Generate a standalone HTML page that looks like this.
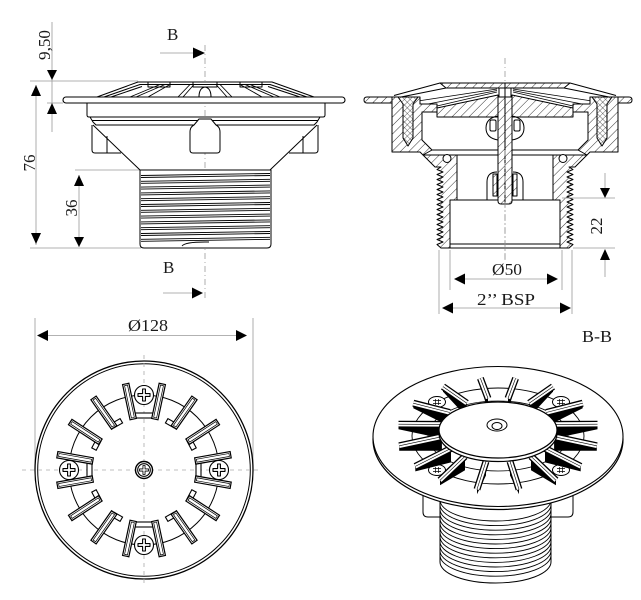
<!DOCTYPE html>
<html><head><meta charset="utf-8"><style>
html,body{margin:0;padding:0;background:#fff;}
svg{display:block;}
text{font-family:"Liberation Serif","Times New Roman",serif;font-size:17px;fill:#1a1a1a;}
</style></head><body>
<svg width="641" height="600" viewBox="0 0 641 600" xmlns="http://www.w3.org/2000/svg">
<defs>
<pattern id="hL" patternUnits="userSpaceOnUse" width="6" height="6" patternTransform="rotate(45)"><rect width="6" height="6" fill="#fff"/><line x1="0" y1="0" x2="0" y2="6" stroke="#000" stroke-width="0.8"/></pattern>
<pattern id="hR" patternUnits="userSpaceOnUse" width="6" height="6" patternTransform="rotate(-45)"><rect width="6" height="6" fill="#fff"/><line x1="0" y1="0" x2="0" y2="6" stroke="#000" stroke-width="0.8"/></pattern>
<pattern id="hx" patternUnits="userSpaceOnUse" width="4" height="4" patternTransform="rotate(45)"><rect width="4" height="4" fill="#fff"/><line x1="0" y1="0" x2="0" y2="4" stroke="#000" stroke-width="0.6"/><line x1="0" y1="0" x2="4" y2="0" stroke="#000" stroke-width="0.6"/></pattern>
<g id="bar"><rect x="-3.2" y="-88" width="6.4" height="36" stroke-width="1.2"/><rect x="-1.5" y="-86.5" width="3" height="33" stroke-width="0.7"/></g>
<path id="plus" d="M-1.4,-6 L1.4,-6 L1.4,-1.4 L6,-1.4 L6,1.4 L1.4,1.4 L1.4,6 L-1.4,6 L-1.4,1.4 L-6,1.4 L-6,-1.4 L-1.4,-1.4 Z" fill="none" stroke-linejoin="round"/>
<g id="secL" stroke="#000" stroke-width="1" stroke-linejoin="round">
  <path d="M440,83 L505,83 L505,88 L446,88 Z"/>
  <path d="M440,83 L394,95.5 M446,88 L401,97" fill="none"/>
  <path d="M418,101 L497,89 M437,106 L497,92 M428,104 L497,90.5" fill="none" stroke-width="0.8"/>
  <path d="M392,97 L420,97 L420,104 L437,104 L437,112 L422,112 L422,140 L432,150 L423,155 L420,152 L392,152 Z"/>
  <path d="M437,112 L437,108 L498,95 L498,117 L437,117 Z"/>
  <path d="M398,97 L418,97 L413,104 L413,138 L408,146 L403,138 L403,104 Z" fill="url(#hx)"/>
  <path d="M432,150 L505,150 M423,155 L505,155" fill="none"/>
  <path d="M423,155 L457,155 L457,200 L450,200 L450,248 L441,248 L437,244.5 L443,242 L437,239.5 L443,237 L437,234.5 L443,232 L437,229.5 L443,227 L437,224.5 L443,222 L437,219.5 L443,217 L437,214.5 L443,212 L437,209.5 L443,207 L437,204.5 L443,202 L437,199.5 L443,197 L437,194.5 L443,192 L437,189.5 L443,187 L437,184.5 L443,182 L437,179.5 L443,177 L437,174.5 L443,172 L437,169.5 L441,167 L435,167 Z"/>
  <circle cx="447" cy="158.5" r="4" fill="#fff"/>
  <path d="M457,200 L505,200 M450,244 L505,244 M450,248 L505,248" fill="none"/>
  <path d="M498,97 L505,97 L505,204 L501,204 Q498,204 498,201 Z"/>
  <rect x="499" y="88" width="6" height="9" fill="#fff"/>
  <path d="M498,116 Q486,118 486,128 Q486,138 498,140" fill="none"/>
  <rect x="490" y="120" width="6" height="11" rx="1.5" fill="#fff"/>
  <path d="M487,200 L487,182 Q487,172 497,172" fill="none"/>
  <rect x="493" y="174" width="4" height="22"/>
</g>
</defs>
<rect width="641" height="600" fill="#fff"/>

<!-- ================= ELEVATION ================= -->
<g stroke="#999" stroke-width="0.8" fill="none">
  <line x1="205" y1="45" x2="205" y2="300" stroke-dasharray="6,3,1,3"/>
  <line x1="52" y1="22" x2="52" y2="132"/>
  <line x1="30" y1="81" x2="138" y2="81"/>
  <line x1="47" y1="103" x2="63" y2="103"/>
  <line x1="36" y1="85" x2="36" y2="245"/>
  <line x1="30" y1="248" x2="141" y2="248"/>
  <line x1="79" y1="175" x2="79" y2="247"/>
  <line x1="75" y1="170" x2="141" y2="170"/>
  <line x1="160" y1="53" x2="195" y2="53"/>
  <line x1="163" y1="293" x2="193" y2="293"/>
</g>
<g fill="#000">
  <polygon points="47,70 57,70 52,80"/>
  <polygon points="47,114 57,114 52,103"/>
  <polygon points="31,96 41,96 36,85"/>
  <polygon points="31,233 41,233 36,244"/>
  <polygon points="74,186 84,186 79,175"/>
  <polygon points="74,237 84,237 79,247"/>
  <polygon points="193,47.5 193,58.5 205,53"/>
  <polygon points="192,287.5 192,298.5 203,293"/>
</g>
<text x="167" y="40">B</text>
<text x="163" y="273">B</text>
<text transform="translate(50,45) rotate(-90)" text-anchor="middle" textLength="30" lengthAdjust="spacingAndGlyphs">9,50</text>
<text transform="translate(35,163) rotate(-90)" text-anchor="middle">76</text>
<text transform="translate(77,208) rotate(-90)" text-anchor="middle">36</text>

<g stroke="#000" stroke-width="1" fill="none" stroke-linejoin="round">
  <path d="M97,97 L138,82 L272,82 L314,97 Z" fill="#fff"/>
  <path d="M104,97 L140,84.5 L270,84.5 L307,97"/>
  <path d="M111,97 L142,86.5 M300,97 L268,86.5"/>
  <path d="M130,97 L160,84.5 M136,97 L165,84.5 M148,97 L170,84.5 M178,97 L190,84.5 M183,97 L194,84.5" stroke-width="0.9"/>
  <path d="M280,97 L250,84.5 M274,97 L245,84.5 M262,97 L240,84.5 M232,97 L220,84.5 M227,97 L216,84.5" stroke-width="0.9"/>
  <rect x="148" y="82" width="22" height="5"/>
  <rect x="240" y="82" width="22" height="5"/>
  <rect x="193" y="82" width="24" height="5"/>
  <path d="M199,97 Q199,88 205,87 Q211,88 211,97" fill="#fff"/>
  <rect x="63" y="97" width="282" height="6" rx="3" fill="#fff" stroke-width="1.1"/>
  <path d="M87,103 L87,115 Q87,117 89,117 L323,117 Q325,117 325,115 L325,103"/>
  <path d="M90,117 L93,122 L96,125 L314,125 L317,122 L320,117"/>
  <line x1="92" y1="120.5" x2="318" y2="120.5"/>
  <path d="M92,125 L92,150 Q92,153 95,153 L121,153 M107,136 L107,153"/>
  <path d="M318,125 L318,150 Q318,153 315,153 L289,153 M303,136 L303,153"/>
  <path d="M93,125 L140,170 M317,125 L270,170"/>
  <path d="M190,150 L190,132 Q190,127 194,125 L199,119 L211,119 L216,125 Q220,127 220,132 L220,150 Q220,153 217,153 L193,153 Q190,153 190,150 Z" fill="#fff"/>
  <path d="M140,170 L140,244 Q140,248 144,248 L267,248 Q271,248 271,244 L271,170 Z" fill="#fff"/>
  <g stroke-width="0.9">
    <path d="M141,175.5 L270,173.5 M141,177.5 L270,175.5"/>
    <path d="M141,181.3 L270,179.3 M141,183.3 L270,181.3"/>
    <path d="M141,187.1 L270,185.1 M141,189.1 L270,187.1"/>
    <path d="M141,192.9 L270,190.9 M141,194.9 L270,192.9"/>
    <path d="M141,198.7 L270,196.7 M141,200.7 L270,198.7"/>
    <path d="M141,204.5 L270,202.5 M141,206.5 L270,204.5"/>
    <path d="M141,210.3 L270,208.3 M141,212.3 L270,210.3"/>
    <path d="M141,216.1 L270,214.1 M141,218.1 L270,216.1"/>
    <path d="M141,221.9 L270,219.9 M141,223.9 L270,221.9"/>
    <path d="M141,227.7 L270,225.7 M141,229.7 L270,227.7"/>
    <path d="M141,233.5 L270,231.5 M141,235.5 L270,233.5"/>
    <path d="M141,239.3 L270,237.3 M141,241.3 L270,239.3"/>
    <path d="M182,246 Q185,242 205,242 L209,242"/>
  </g>
</g>

<!-- ================= SECTION B-B ================= -->
<line x1="505" y1="58" x2="505" y2="262" stroke="#999" stroke-width="0.8" stroke-dasharray="6,3,1,3"/>
<path d="M392,97 L367,97 Q364,97 364,100 Q364,103 367,103 L392,103 Z" fill="url(#hL)" stroke="#000"/>
<path d="M618,97 L629,97 Q632,97 632,100 Q632,103 629,103 L618,103 Z" fill="url(#hL)" stroke="#000"/>
<use href="#secL" fill="url(#hL)"/>
<use href="#secL" fill="url(#hR)" transform="translate(1010,0) scale(-1,1)"/>
<line x1="505" y1="150" x2="505" y2="262" stroke="#999" stroke-width="0.8" stroke-dasharray="6,3,1,3"/>

<g stroke="#999" stroke-width="0.8" fill="none">
  <line x1="439" y1="250" x2="439" y2="314"/>
  <line x1="572" y1="250" x2="572" y2="314"/>
  <line x1="450" y1="250" x2="450" y2="290"/>
  <line x1="562" y1="250" x2="562" y2="290"/>
  <line x1="455" y1="279" x2="557" y2="279"/>
  <line x1="443" y1="308" x2="570" y2="308"/>
  <line x1="562" y1="198" x2="615" y2="198"/>
  <line x1="573" y1="248" x2="615" y2="248"/>
  <line x1="605" y1="173" x2="605" y2="190"/>
  <line x1="605" y1="258" x2="605" y2="277"/>
</g>
<g fill="#000">
  <polygon points="465,273.5 465,284.5 454,279"/>
  <polygon points="547,273.5 547,284.5 558,279"/>
  <polygon points="453,302.5 453,313.5 442,308"/>
  <polygon points="560,302.5 560,313.5 571,308"/>
  <polygon points="600,188 610,188 605,198"/>
  <polygon points="600,260 610,260 605,249"/>
</g>
<text x="492" y="275" textLength="30" lengthAdjust="spacingAndGlyphs">Ø50</text>
<text x="477" y="305" textLength="58" lengthAdjust="spacingAndGlyphs">2’’ BSP</text>
<text transform="translate(602,226) rotate(-90)" text-anchor="middle">22</text>
<text x="582" y="342" textLength="30" lengthAdjust="spacingAndGlyphs">B-B</text>

<!-- ================= TOP VIEW ================= -->
<g stroke="#999" stroke-width="0.8" fill="none">
  <line x1="35" y1="318" x2="35" y2="468"/>
  <line x1="253" y1="318" x2="253" y2="468"/>
  <line x1="45" y1="335.5" x2="240" y2="335.5"/>
</g>
<g fill="#000">
  <polygon points="48,330 48,341 37,335.5"/>
  <polygon points="236,330 236,341 247,335.5"/>
</g>
<text x="128" y="331" textLength="40" lengthAdjust="spacingAndGlyphs">Ø128</text>

<g stroke="#000" fill="none">
  <circle cx="144" cy="470" r="109" stroke-width="1.3"/>
  <circle cx="144" cy="470" r="106.3" stroke-width="1"/>
  <circle cx="144" cy="470" r="75" stroke-width="1"/>
</g>
<g stroke="#aaa" stroke-width="0.8" stroke-dasharray="4,4" fill="none">
  <line x1="22" y1="470" x2="262" y2="470"/>
  <line x1="144" y1="355" x2="144" y2="587"/>
</g>
<g transform="translate(144,470)" stroke="#000" stroke-width="1.1" fill="#fff">
  <rect x="-12" y="-57" width="24" height="5" transform="rotate(0)"/>
  <rect x="-12" y="-57" width="24" height="5" transform="rotate(90)"/>
  <rect x="-12" y="-57" width="24" height="5" transform="rotate(180)"/>
  <rect x="-12" y="-57" width="24" height="5" transform="rotate(270)"/>
  <rect x="-5" y="-56.5" width="10" height="5" transform="rotate(30)"/>
  <rect x="-5" y="-56.5" width="10" height="5" transform="rotate(62)"/>
  <rect x="-5" y="-56.5" width="10" height="5" transform="rotate(118)"/>
  <rect x="-5" y="-56.5" width="10" height="5" transform="rotate(150)"/>
  <rect x="-5" y="-56.5" width="10" height="5" transform="rotate(210)"/>
  <rect x="-5" y="-56.5" width="10" height="5" transform="rotate(242)"/>
  <rect x="-5" y="-56.5" width="10" height="5" transform="rotate(298)"/>
  <rect x="-5" y="-56.5" width="10" height="5" transform="rotate(330)"/>
  <use href="#bar" transform="rotate(12)"/>
  <use href="#bar" transform="rotate(35)"/>
  <use href="#bar" transform="rotate(57)"/>
  <use href="#bar" transform="rotate(80)"/>
  <use href="#bar" transform="rotate(100)"/>
  <use href="#bar" transform="rotate(123)"/>
  <use href="#bar" transform="rotate(145)"/>
  <use href="#bar" transform="rotate(168)"/>
  <use href="#bar" transform="rotate(192)"/>
  <use href="#bar" transform="rotate(215)"/>
  <use href="#bar" transform="rotate(237)"/>
  <use href="#bar" transform="rotate(260)"/>
  <use href="#bar" transform="rotate(280)"/>
  <use href="#bar" transform="rotate(303)"/>
  <use href="#bar" transform="rotate(325)"/>
  <use href="#bar" transform="rotate(348)"/>
</g>
<g stroke="#000" stroke-width="1.1" fill="#fff">
  <g transform="translate(144,395)"><circle r="9.5"/><use href="#plus"/></g>
  <g transform="translate(144,545)"><circle r="9.5"/><use href="#plus"/></g>
  <g transform="translate(69,470)"><circle r="9.5"/><use href="#plus"/></g>
  <g transform="translate(219,470)"><circle r="9.5"/><use href="#plus"/></g>
  <g transform="translate(144,470)"><circle r="8.5" stroke-width="1.4"/><circle r="6.3"/><use href="#plus" transform="scale(0.75)"/></g>
</g>

<!-- ================= ISOMETRIC ================= -->
<g stroke="#000" stroke-width="1" fill="#fff">
  <path d="M423,492 L423,512 Q423,517 428,517 L440,517 L440,492 Z"/>
  <path d="M573,492 L573,512 Q573,517 568,517 L551,517 L551,492 Z"/>
  <path d="M440,495 L440,562 A55.5,21 0 0 0 551,562 L551,495 Z"/>
  <g fill="none" stroke-width="0.9">
    <path d="M440,500 A55.5,21 0 0 0 551,500"/>
    <path d="M440,504.6 A55.5,21 0 0 0 551,504.6"/>
    <path d="M440,509.2 A55.5,21 0 0 0 551,509.2"/>
    <path d="M440,513.8 A55.5,21 0 0 0 551,513.8"/>
    <path d="M440,518.4 A55.5,21 0 0 0 551,518.4"/>
    <path d="M440,523 A55.5,21 0 0 0 551,523"/>
    <path d="M440,527.6 A55.5,21 0 0 0 551,527.6"/>
    <path d="M440,532.2 A55.5,21 0 0 0 551,532.2"/>
    <path d="M440,536.8 A55.5,21 0 0 0 551,536.8"/>
    <path d="M440,541.4 A55.5,21 0 0 0 551,541.4"/>
    <path d="M440,546 A55.5,21 0 0 0 551,546"/>
    <path d="M440,550.6 A55.5,21 0 0 0 551,550.6"/>
    <path d="M440,555.2 A55.5,21 0 0 0 551,555.2"/>
  </g>
  <ellipse cx="498" cy="439.5" rx="125" ry="70" stroke-width="1.2"/>
  <ellipse cx="498" cy="436.5" rx="125" ry="70" stroke-width="1.1"/>
  <ellipse cx="498" cy="436" rx="86" ry="48" fill="none" stroke-width="0.9"/>
  <ellipse cx="498" cy="436" rx="70" ry="35" fill="none" stroke-width="0.8"/>
  <g transform="translate(437,402)"><ellipse rx="8.5" ry="5.5"/><path d="M-4,-1.5 L4,-1.5 M-4,1.5 L4,1.5 M-1.5,-3 L-1.5,3 M1.5,-3 L1.5,3" fill="none" stroke-width="0.7"/></g>
  <g transform="translate(561,402)"><ellipse rx="8.5" ry="5.5"/><path d="M-4,-1.5 L4,-1.5 M-4,1.5 L4,1.5 M-1.5,-3 L-1.5,3 M1.5,-3 L1.5,3" fill="none" stroke-width="0.7"/></g>
  <g transform="translate(437,470)"><ellipse rx="8.5" ry="5.5"/><path d="M-4,-1.5 L4,-1.5 M-4,1.5 L4,1.5 M-1.5,-3 L-1.5,3 M1.5,-3 L1.5,3" fill="none" stroke-width="0.7"/></g>
  <g transform="translate(561,470)"><ellipse rx="8.5" ry="5.5"/><path d="M-4,-1.5 L4,-1.5 M-4,1.5 L4,1.5 M-1.5,-3 L-1.5,3 M1.5,-3 L1.5,3" fill="none" stroke-width="0.7"/></g>
</g>
<!-- teeth shading -->
<g stroke="none" fill="#000">
  <polygon points="515.6,378.3 508,398.4 508,412.4 515.6,383.3"/>
  <polygon points="480.4,378.3 488,398.4 488,412.4 480.4,383.3"/>
  <polygon points="553,386.6 529.3,403.1 529.3,417.1 553,391.6"/>
  <polygon points="443,386.6 466.7,403.1 466.7,417.1 443,391.6"/>
  <polygon points="582.7,403.2 546.2,412.5 546.2,426.5 582.7,408.2"/>
  <polygon points="413.3,403.2 449.8,412.5 449.8,426.5 413.3,408.2"/>
  <polygon points="597.5,424.2 554.5,424.4 554.5,438.4 597.5,429.2"/>
  <polygon points="398.5,424.2 441.5,424.4 441.5,438.4 398.5,429.2"/>
  <polygon points="596.8,445.8 554.1,436.7 554.1,450.7 596.8,450.8"/>
  <polygon points="399.2,445.8 441.9,436.7 441.9,450.7 399.2,450.8"/>
  <polygon points="580.7,466.4 545,448.4 545,462.4 580.7,471.4"/>
  <polygon points="415.3,466.4 451,448.4 451,462.4 415.3,471.4"/>
  <polygon points="556,480.3 531,456.3 531,470.3 556,485.3"/>
  <polygon points="440,480.3 465,456.3 465,470.3 440,485.3"/>
  <polygon points="519,489.3 510,461.4 510,475.4 519,494.3"/>
  <polygon points="477,489.3 486,461.4 486,475.4 477,494.3"/>
</g>
<g fill="none" stroke="#000" stroke-width="7">
  <path d="M508,398.4 L515.6,378.3 M488,398.4 L480.4,378.3 M529.3,403.1 L553,386.6 M466.7,403.1 L443,386.6 M546.2,412.5 L582.7,403.2 M449.8,412.5 L413.3,403.2 M554.5,424.4 L597.5,424.2 M441.5,424.4 L398.5,424.2 M554.1,436.7 L596.8,445.8 M441.9,436.7 L399.2,445.8 M545,448.4 L580.7,466.4 M451,448.4 L415.3,466.4 M531,456.3 L556,480.3 M465,456.3 L440,480.3 M510,461.4 L519,489.3 M486,461.4 L477,489.3"/>
</g>
<g fill="none" stroke="#fff" stroke-width="4.4">
  <path d="M508,398.4 L515.6,378.3 M488,398.4 L480.4,378.3 M529.3,403.1 L553,386.6 M466.7,403.1 L443,386.6 M546.2,412.5 L582.7,403.2 M449.8,412.5 L413.3,403.2 M554.5,424.4 L597.5,424.2 M441.5,424.4 L398.5,424.2 M554.1,436.7 L596.8,445.8 M441.9,436.7 L399.2,445.8 M545,448.4 L580.7,466.4 M451,448.4 L415.3,466.4 M531,456.3 L556,480.3 M465,456.3 L440,480.3 M510,461.4 L519,489.3 M486,461.4 L477,489.3"/>
</g>
<g fill="none" stroke="#000" stroke-width="0.6">
  <path d="M508,398.4 L515.6,378.3 M488,398.4 L480.4,378.3 M529.3,403.1 L553,386.6 M466.7,403.1 L443,386.6 M546.2,412.5 L582.7,403.2 M449.8,412.5 L413.3,403.2 M554.5,424.4 L597.5,424.2 M441.5,424.4 L398.5,424.2 M554.1,436.7 L596.8,445.8 M441.9,436.7 L399.2,445.8 M545,448.4 L580.7,466.4 M451,448.4 L415.3,466.4 M531,456.3 L556,480.3 M465,456.3 L440,480.3 M510,461.4 L519,489.3 M486,461.4 L477,489.3"/>
</g>
<g stroke="#000" fill="#fff">
  <ellipse cx="498" cy="433.5" rx="59" ry="28" stroke-width="1.2"/>
  <ellipse cx="498" cy="430" rx="59" ry="28" stroke-width="1.2"/>
  <ellipse cx="497" cy="425" rx="10" ry="6" stroke-width="1"/>
  <ellipse cx="497" cy="426" rx="5" ry="3.5" stroke-width="1"/>
</g>
</svg>
</body></html>
